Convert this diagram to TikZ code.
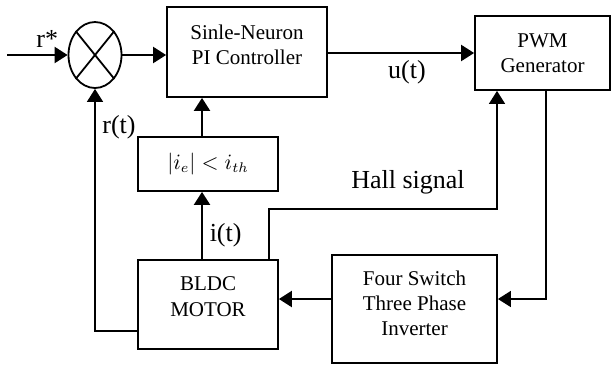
\documentclass[tikz,border=0pt]{standalone}
\usepackage{fontspec}
\setmainfont{Liberation Serif}
\usetikzlibrary{arrows.meta,positioning,shapes.geometric,calc}

\begin{document}
\begin{tikzpicture}[x=0.5pt,y=-0.5pt,
  block/.style={rectangle,draw,line width=0.9pt,align=center,
                font=\fontsize{10.5}{12.6}\selectfont,inner sep=0pt},
  summer/.style={ellipse,draw,line width=0.9pt,minimum width=26.5pt,
                 minimum height=33pt,inner sep=0pt},
  lbl/.style={font=\fontsize{13}{15}\selectfont},
  arr/.style={-{Triangle[length=6.5pt,width=8pt]},line width=1.1pt},
  tarr/.style={-{Triangle[length=6.5pt,width=8pt]},line width=0.75pt}]

  \useasboundingbox (0,0) rectangle (613,365);

  \node[summer] (sum) at (95,55) {};
  \draw[line width=0.9pt] (sum.north west) -- (sum.south east);
  \draw[line width=0.9pt] (sum.north east) -- (sum.south west);

  \node[block,minimum width=80pt,minimum height=45pt,text depth=7pt] (pi) at (247,52)
    {Sinle-Neuron\\PI Controller};
  \node[block,minimum width=67.5pt,minimum height=37pt] (pwm) at (542.5,53)
    {PWM\\Generator};
  \node[block,minimum width=70pt,minimum height=27pt] (cond) at (208,164)
    {$|i_e| < i_{th}$};
  \node[block,minimum width=70pt,minimum height=44.5pt,text depth=8pt] (bldc) at (208,304.5)
    {BLDC\\MOTOR};
  \node[block,minimum width=82.5pt,minimum height=54pt,text depth=6pt] (inv) at (414.5,309)
    {Four Switch\\Three Phase\\Inverter};

  \coordinate (ref) at (7,55);

  \draw[arr] (ref) -- node[lbl,above,xshift=5pt] {r*} (sum.west);
  \draw[arr] (sum.east) -- (sum.east -| pi.west);
  \draw[arr] (pwm.west -| pi.east) -- node[lbl,below=0pt,xshift=3pt] {u(t)} (pwm.west);
  \draw[arr] ([xshift=-3pt]cond.north) -- ([xshift=-3pt]cond.north |- pi.south);
  \draw[arr] ([xshift=-3pt]bldc.north) -- node[lbl,right,yshift=-5pt] {i(t)}
    ([xshift=-3pt]cond.south);
  \draw[tarr] ([xshift=30.5pt]bldc.north) -- ++(0,-50)
    -| ([xshift=-22.75pt]pwm.south);
  \node[lbl] (hall) at (408,182) {Hall signal};
  \draw[tarr] ([xshift=1.75pt]pwm.south) |- ([yshift=5pt]inv.east);
  \draw[arr] ([yshift=5pt]inv.west) -- ([yshift=5pt]inv.west -| bldc.east);
  \draw[tarr] ([yshift=-13.25pt]bldc.west) -| node[lbl,right,pos=0.92] {r(t)}
    (sum.south);
\end{tikzpicture}
\end{document}
